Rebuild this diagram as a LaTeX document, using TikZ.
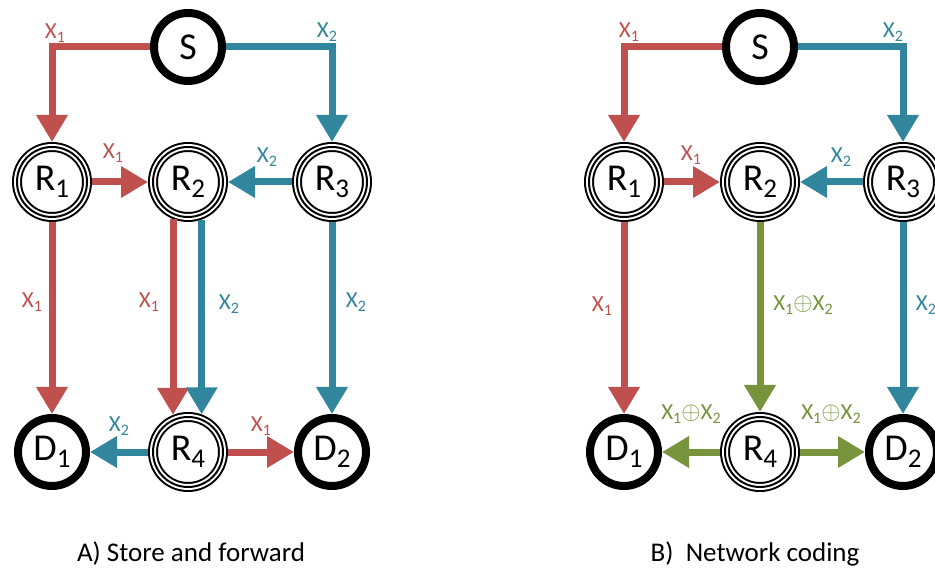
\documentclass[tikz,border=0pt]{standalone}
\usepackage{fontspec}
\setmainfont{Carlito}
\usetikzlibrary{arrows.meta}

\definecolor{xred}{HTML}{C0504D}
\definecolor{xblue}{HTML}{31859C}
\definecolor{xgreen}{HTML}{77933C}

% lowered subscripts for node names and edge labels
\newcommand\nodesub[1]{{\fontsize{27}{27}\selectfont\raisebox{-7pt}{#1}}}
\newcommand\labsub[1]{{\fontsize{16}{16}\selectfont\raisebox{-4.5pt}{#1}}}
\newcommand\Xone{X\labsub{1}}
\newcommand\Xtwo{X\labsub{2}}
\newcommand\Xsum{X\labsub{1}$\oplus$X\labsub{2}}

\tikzset{
  endnode/.style={circle, draw=black, line width=8pt, fill=white,
    minimum size=68pt, inner sep=0pt, outer sep=4pt,
    font=\fontsize{38}{42}\selectfont},
  relay/.style={circle, minimum size=70pt, inner sep=0pt, outer sep=5pt,
    preaction={fill=white, draw=black, line width=10pt},
    preaction={draw=white, line width=6pt},
    draw=black, line width=2pt,
    font=\fontsize{38}{42}\selectfont},
  flow/.style={line width=7pt, -{Triangle[width=30pt,length=27pt]}},
  fx1/.style={flow, draw=xred},
  fx2/.style={flow, draw=xblue},
  fxs/.style={flow, draw=xgreen},
  lab/.style={font=\fontsize{23}{26}\selectfont, inner sep=0pt},
  caption/.style={font=\fontsize{27}{30}\selectfont, anchor=base, inner sep=0pt}
}

\begin{document}
\begin{tikzpicture}[x=1pt, y=-1pt]
\useasboundingbox (0,0) rectangle (935,569);
\clip (0,0) rectangle (935,569);

% ---------- A) store and forward ----------
\node[endnode] (Sa)  at (188,47)  {S};
\node[relay]   (R1a) at (52,182)  {R\nodesub{1}};
\node[relay]   (R2a) at (188,182) {R\nodesub{2}};
\node[relay]   (R3a) at (332,182) {R\nodesub{3}};
\node[endnode] (D1a) at (52,452)  {D\nodesub{1}};
\node[relay]   (R4a) at (188,452) {R\nodesub{4}};
\node[endnode] (D2a) at (332,452) {D\nodesub{2}};

\draw[fx1] (Sa.west) -| (R1a.north);
\draw[fx2] (Sa.east) -| (R3a.north);
\draw[fx1] (R1a.east) -- (R2a.west);
\draw[fx2] (R3a.west) -- (R2a.east);
\draw[fx1] (R1a.south) -- (D1a.north);
\draw[fx1] (R2a.248) -- (R4a.112);
\draw[fx2] (R2a.290) -- (R4a.70);
\draw[fx2] (R3a.south) -- (D2a.north);
\draw[fx2] (R4a.west) -- (D1a.east);
\draw[fx1] (R4a.east) -- (D2a.west);

\node[lab, text=xred]  (la1) at (55,33)   {\Xone};
\node[lab, text=xblue] (la2) at (327,32)  {\Xtwo};
\node[lab, text=xred]  (la3) at (113,153) {\Xone};
\node[lab, text=xblue] (la4) at (267,157) {\Xtwo};
\node[lab, text=xred]  (la5) at (32,302)  {\Xone};
\node[lab, text=xred]  (la6) at (149,302) {\Xone};
\node[lab, text=xblue] (la7) at (229,304) {\Xtwo};
\node[lab, text=xblue] (la8) at (356,302) {\Xtwo};
\node[lab, text=xblue] (la9) at (119,426) {\Xtwo};
\node[lab, text=xred]  (la10) at (261,426) {\Xone};

\node[caption] (capa) at (191,561) {A) Store and forward};

% ---------- B) network coding ----------
\node[endnode] (Sb)  at (760,47)  {S};
\node[relay]   (R1b) at (624,182) {R\nodesub{1}};
\node[relay]   (R2b) at (760,182) {R\nodesub{2}};
\node[relay]   (R3b) at (903,182) {R\nodesub{3}};
\node[endnode] (D1b) at (624,452) {D\nodesub{1}};
\node[relay]   (R4b) at (760,452) {R\nodesub{4}};
\node[endnode] (D2b) at (903,452) {D\nodesub{2}};

\draw[fx1] (Sb.west) -| (R1b.north);
\draw[fx2] (Sb.east) -| (R3b.north);
\draw[fx1] (R1b.east) -- (R2b.west);
\draw[fx2] (R3b.west) -- (R2b.east);
\draw[fx1] (R1b.south) -- (D1b.north);
\draw[fxs] (R2b.south) -- (R4b.north);
\draw[fx2] (R3b.south) -- (D2b.north);
\draw[fxs] (R4b.west) -- (D1b.east);
\draw[fxs] (R4b.east) -- (D2b.west);

\node[lab, text=xred]   (lb1) at (629,32)  {\Xone};
\node[lab, text=xblue]  (lb2) at (893,32)  {\Xtwo};
\node[lab, text=xred]   (lb3) at (691,155) {\Xone};
\node[lab, text=xblue]  (lb4) at (841,157) {\Xtwo};
\node[lab, text=xred]   (lb5) at (602,306) {\Xone};
\node[lab, text=xgreen] (lb6) at (803,305) {\Xsum};
\node[lab, text=xblue]  (lb7) at (926,305) {\Xtwo};
\node[lab, text=xgreen] (lb8) at (691,414) {\Xsum};
\node[lab, text=xgreen] (lb9) at (831,414) {\Xsum};

\node[caption] (capb) at (755,561) {B)~~Network coding};
\end{tikzpicture}
\end{document}
